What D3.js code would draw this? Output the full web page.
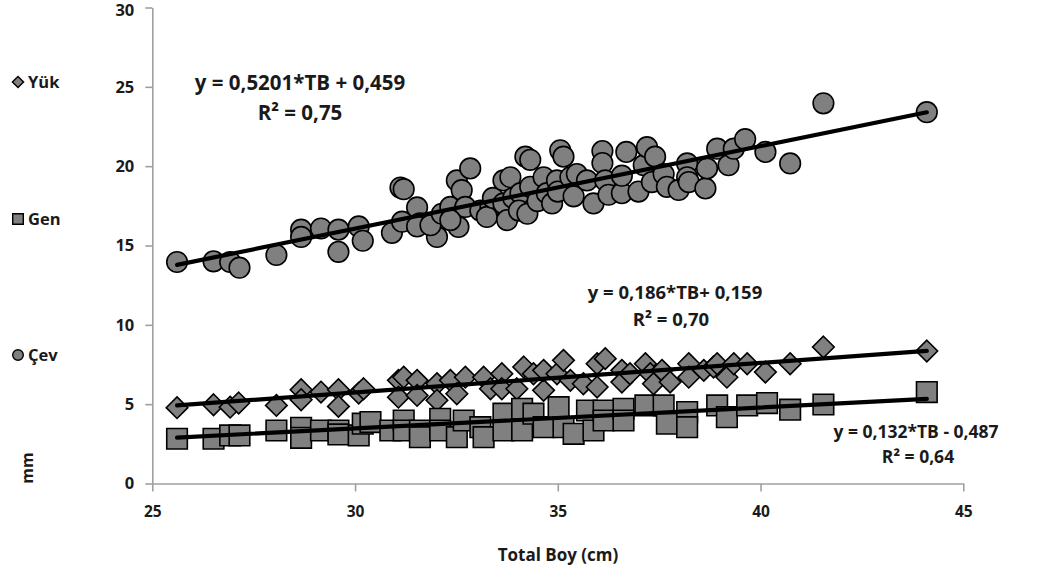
<!DOCTYPE html>
<html><head><meta charset="utf-8">
<script src="https://cdn.jsdelivr.net/npm/d3@7"></script>
<style>
body{margin:0;background:#fff}
text{font-family:'Open Sans',Lato,sans-serif;font-weight:700;fill:#1a1a1a}
</style>
</head><body><svg id="c" width="1037" height="577"></svg>
<script>
const xTicks=[25,30,35,40,45];
const yTicks=[0,5,10,15,20,25,30];
const seriesNames=["Yük","Gen","Çev"];

const yukX=[25.61,26.51,26.92,27.13,28.06,28.67,28.67,29.16,29.59,29.59,30.09,30.21,31.07,31.2,31.07,31.53,31.53,32.02,32.02,32.35,32.51,32.72,33.17,33.34,33.62,33.62,33.99,34.16,34.4,34.65,34.65,34.98,35.14,35.31,35.63,35.97,35.97,36.17,36.58,36.58,36.78,37.16,37.28,37.36,37.57,37.77,38.23,38.23,38.6,38.84,38.93,39.17,39.34,39.67,40.12,40.73,41.55,44.1];
const yukY=[4.78,4.96,4.81,5.07,4.92,5.91,5.28,5.76,5.91,4.86,5.7,5.97,6.5,6.7,5.44,6.5,5.55,6.29,5.24,6.5,5.66,6.7,6.7,5.97,6.92,5.97,5.97,7.34,6.92,5.87,7.13,6.92,7.76,6.5,6.29,7.55,6.08,7.87,7.13,6.39,6.92,7.55,6.92,6.29,7.13,6.39,7.55,6.7,7.13,7.34,7.55,6.7,7.55,7.55,7.02,7.55,8.6,8.35];

const genX=[25.61,26.51,26.92,27.15,28.06,28.67,28.67,29.16,29.59,29.59,30.09,30.19,30.38,30.87,31.2,31.2,31.6,31.6,32.1,32.1,32.51,32.68,33.09,33.17,33.66,33.66,34.12,34.12,34.4,34.65,35.02,35.14,35.39,35.72,35.88,36.13,36.13,36.62,36.62,37.16,37.61,37.69,38.19,38.19,38.93,39.17,39.67,40.16,40.73,41.55,44.1];
const genY=[2.82,2.82,3.03,3.03,3.34,3.51,2.88,3.34,3.34,3.09,3.03,3.77,3.87,3.34,3.97,3.34,3.34,2.92,4.08,3.34,2.92,3.97,3.55,2.92,4.4,3.34,4.71,3.34,4.4,3.55,4.81,3.55,3.13,4.6,3.34,4.6,3.97,4.71,3.97,4.92,4.92,3.77,4.5,3.55,4.92,4.18,4.92,5.07,4.65,4.98,5.76];

const cevX=[25.61,26.51,26.92,27.15,28.06,28.67,28.67,29.16,29.59,29.59,30.09,30.19,30.91,31.16,31.12,31.2,31.53,31.6,31.53,32.02,31.86,32.14,32.35,32.51,32.63,32.84,32.72,32.55,32.35,33.09,33.34,33.25,33.4,33.66,33.83,33.66,33.75,33.9,34.08,34.04,34.25,34.2,34.32,34.32,34.5,34.65,34.73,34.86,34.98,35.0,35.06,35.14,35.31,35.47,35.39,35.72,35.88,36.1,36.1,36.17,36.25,36.58,36.58,36.69,36.99,37.12,37.2,37.32,37.4,37.61,37.69,37.98,38.19,38.19,38.23,38.64,38.68,38.93,39.21,39.34,39.62,40.12,40.73,41.55,44.1];
const cevY=[13.96,14.0,13.96,13.6,14.4,16.0,15.54,16.07,16.0,14.6,16.2,15.3,15.8,16.5,18.65,18.55,17.4,16.4,16.2,15.54,16.28,17.0,17.43,19.1,18.49,19.86,17.43,16.17,16.6,17.2,17.43,16.8,18.0,19.1,19.3,17.65,16.6,18.0,18.3,17.2,17.0,20.6,20.4,18.7,17.8,19.3,18.3,17.65,19.1,18.4,21.0,20.6,19.3,19.5,18.1,19.1,17.65,20.95,20.2,19.1,18.2,18.3,19.4,20.9,18.4,20.06,21.2,19.0,20.6,19.5,18.7,18.5,20.17,19.3,19.0,18.6,19.86,21.1,20.06,21.1,21.7,20.9,20.17,23.96,23.4];

const trendSlope=[0.186,0.132,0.5201];
const trendIntercept=[0.159,-0.487,0.459];
const eqLine1=["y = 0,186*TB+ 0,159","y = 0,132*TB - 0,487","y = 0,5201*TB + 0,459"];
const eqLine2=["R² = 0,70","R² = 0,64","R² = 0,75"];

const svg=d3.select("#c");
const x=d3.scaleLinear().domain([25,45]).range([152.3,963.3]);
const y=d3.scaleLinear().domain([0,30]).range([483.5,7.5]);

const FONT="'Open Sans',Lato,sans-serif";
const axisColor="#a0a0a0";
const gy=svg.append("g").attr("transform",`translate(${x(25)},0)`)
  .call(d3.axisLeft(y).tickValues(yTicks).tickSize(7).tickSizeOuter(0).tickPadding(11).tickFormat(d3.format("d")));
const gx=svg.append("g").attr("transform",`translate(0,${y(0)})`)
  .call(d3.axisBottom(x).tickValues(xTicks).tickSize(8).tickSizeOuter(0).tickPadding(14).tickFormat(d3.format("d")));
[gx,gy].forEach(g=>{
  g.select(".domain").attr("stroke",axisColor).attr("stroke-width",1.6);
  g.selectAll(".tick line").attr("stroke",axisColor).attr("stroke-width",1.6);
  g.selectAll("text").attr("fill","#1a1a1a").style("font-family",FONT).style("font-weight",700);
});
gy.selectAll("text").style("font-size","16.5px");
gy.selectAll(".tick").filter(d=>d===30).select("text").attr("dy","0.5em");
gx.selectAll("text").style("font-size","15.5px");

const fill="#808080", stroke="#000";
const diamond=s=>`M0,${-s}L${s},0L0,${s}L${-s},0Z`;
const square=s=>`M${-s},${-s}H${s}V${s}H${-s}Z`;

const series=[
  {xs:yukX,ys:yukY,shape:"diamond"},
  {xs:genX,ys:genY,shape:"square"},
  {xs:cevX,ys:cevY,shape:"circle"}
];
const markerPath=(shape,s)=>shape==="diamond"?diamond(s):shape==="square"?square(s):null;

series.forEach(s=>{
  const pts=s.xs.map((v,i)=>({x:v,y:s.ys[i]}));
  const g=svg.append("g");
  if(s.shape==="circle"){
    g.selectAll("circle").data(pts).join("circle")
      .attr("cx",d=>x(d.x)).attr("cy",d=>y(d.y)).attr("r",10.3)
      .attr("fill",fill).attr("stroke",stroke).attr("stroke-width",1.6);
  } else {
    const sz=s.shape==="diamond"?10.8:10.3;
    g.selectAll("path").data(pts).join("path")
      .attr("d",markerPath(s.shape,sz))
      .attr("transform",d=>`translate(${x(d.x)},${y(d.y)})`)
      .attr("fill",fill).attr("stroke",stroke).attr("stroke-width",1.6);
  }
});

series.forEach((s,i)=>{
  const x0=d3.min(s.xs), x1=d3.max(s.xs);
  const line=d3.line().x(d=>x(d)).y(d=>y(trendSlope[i]*d+trendIntercept[i]));
  svg.append("path").attr("d",line([x0,x1])).attr("stroke","#000").attr("stroke-width",4.2)
    .attr("fill","none").attr("stroke-linecap","round");
});

const eqPos=[[675,293,671,320],[916,432,918,457],[300,83,300,113]];
const eqSize=[18.5,17.5,20.5];
eqPos.forEach((p,i)=>{
  svg.append("text").attr("x",p[0]).attr("y",p[1]).attr("dy","0.35em").attr("text-anchor","middle")
    .style("font-size",eqSize[i]+"px").text(eqLine1[i]);
  svg.append("text").attr("x",p[2]).attr("y",p[3]).attr("dy","0.35em").attr("text-anchor","middle")
    .style("font-size",eqSize[i]+"px").text(eqLine2[i]);
});

const legY=[82,219,355];
const legShapes=["diamond","square","circle"];
legShapes.forEach((sh,i)=>{
  if(sh==="circle"){
    svg.append("circle").attr("cx",18).attr("cy",legY[i]).attr("r",5.3)
      .attr("fill",fill).attr("stroke",stroke).attr("stroke-width",1.4);
  } else {
    svg.append("path").attr("d",markerPath(sh,sh==="diamond"?5.6:5.3))
      .attr("transform",`translate(18,${legY[i]})`)
      .attr("fill",fill).attr("stroke",stroke).attr("stroke-width",1.4);
  }
  svg.append("text").attr("x",28).attr("y",legY[i]).attr("dy","0.35em")
    .style("font-size","16.5px").text(seriesNames[i]);
});

svg.append("text").attr("transform","translate(27,468) rotate(-90)").attr("text-anchor","middle")
  .attr("dy","0.35em").style("font-size","16px").text("mm");
svg.append("text").attr("x",558).attr("y",555).attr("dy","0.35em").attr("text-anchor","middle")
  .style("font-size","17px").text("Total Boy (cm)");
</script>
</body></html>
